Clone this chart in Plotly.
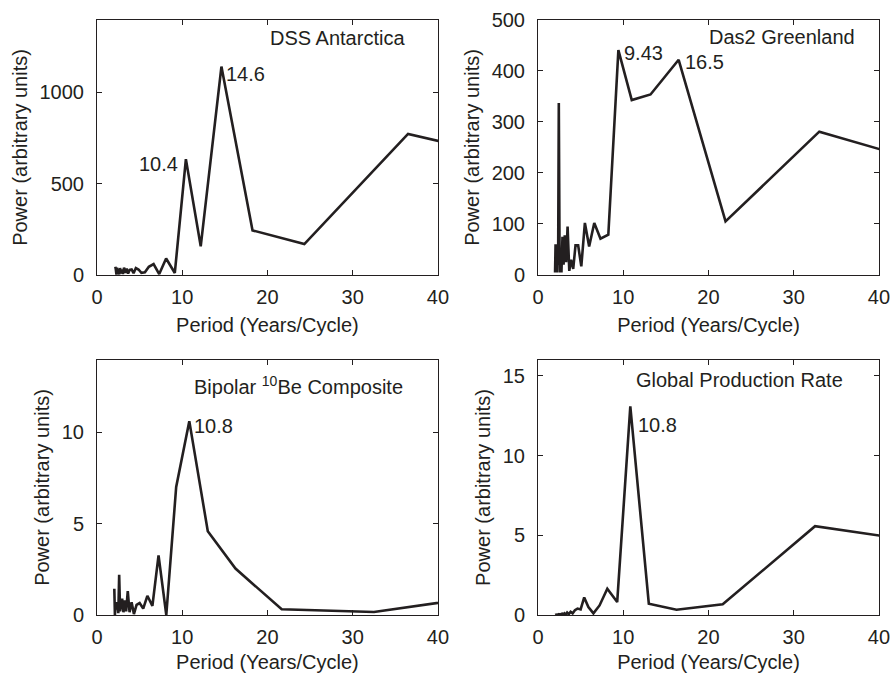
import plotly.graph_objects as go

# ---- data ----
dss_period = [73, 36.5, 24.33, 18.25, 14.6, 12.17, 10.43, 9.13, 8.11, 7.3, 6.64, 6.08, 5.62, 5.21,
              4.87, 4.56, 4.29, 4.06, 3.84, 3.65, 3.48, 3.32, 3.17, 3.04, 2.92, 2.81, 2.7, 2.61,
              2.52, 2.43, 2.35, 2.28, 2.21, 2.15]
dss_power = [376, 772, 169, 244, 1140, 157, 634, 11, 90, 5, 60, 45, 15, 12,
             30, 38, 10, 30, 28, 8, 35, 12, 40, 5, 30, 8, 38, 3,
             25, 10, 40, 2, 30, 45]

das2_period = [66, 33, 22, 16.5, 13.2, 11, 9.43, 8.25, 7.33, 6.6, 6.0, 5.5, 5.08, 4.71, 4.4,
               4.13, 3.88, 3.67, 3.47, 3.3, 3.14, 3.0, 2.87, 2.75, 2.64, 2.54, 2.44, 2.36,
               2.28, 2.2, 2.13, 2.06, 2.0]
das2_power = [121, 281, 105, 422, 354, 343, 441, 79, 71, 102, 56, 102, 17, 58, 58,
              12, 30, 8, 95, 25, 78, 20, 75, 5, 40, 5, 337, 20,
              60, 5, 35, 60, 5]

be_period = [65, 32.5, 21.67, 16.25, 13, 10.83, 9.29, 8.13, 7.22, 6.5, 5.91, 5.42, 5.0, 4.64,
             4.33, 4.06, 3.82, 3.61, 3.42, 3.25, 3.1, 2.95, 2.83, 2.71, 2.6, 2.5, 2.41, 2.32,
             2.24, 2.17, 2.1, 2.03]
be_power = [2.33, 0.16, 0.31, 2.54, 4.58, 10.6, 7.0, 0.0, 3.26, 0.5, 1.05, 0.35, 0.65, 0.55,
            0.05, 0.7, 0.15, 1.3, 0.2, 0.8, 0.15, 0.9, 0.6, 0.2, 2.2, 0.1, 0.6, 0.7,
            0.3, 0.5, 0.0, 1.44]

gpr_period = be_period
gpr_power = [3.06, 5.57, 0.67, 0.33, 0.71, 13.09, 0.81, 1.65, 0.6, 0.1, 0.5, 1.1, 0.35, 0.4,
             0.3, 0.1, 0.2, 0.05, 0.15, 0.02, 0.1, 0.03, 0.08, 0.02, 0.05, 0.01, 0.04, 0.0,
             0.03, 0.0, 0.02, 0.0]

titles = ["DSS Antarctica", "Das2 Greenland", "Bipolar <sup>10</sup>Be Composite", "Global Production Rate"]
y_ranges = [[0, 1395], [0, 500], [0, 13.94], [0, 16]]
y_ticks = [[0, 500, 1000], [0, 100, 200, 300, 400, 500], [0, 5, 10], [0, 5, 10, 15]]
x_ticks = [0, 10, 20, 30, 40]

INK = "#231f20"
FONT = "Arial, Liberation Sans, Helvetica, sans-serif"
FS = 20

x_domains = [[0.109, 0.492], [0.6045, 0.9876], [0.109, 0.492], [0.6045, 0.9876]]
y_domains = [[0.5914, 0.9703], [0.5914, 0.9703], [0.0862, 0.465], [0.0862, 0.465]]
x_title_standoff = [11, 11, 8, 8]

series = [(dss_period, dss_power), (das2_period, das2_power), (be_period, be_power), (gpr_period, gpr_power)]

fig = go.Figure()
for i, (px, py) in enumerate(series):
    sfx = "" if i == 0 else str(i + 1)
    fig.add_trace(go.Scatter(x=px, y=py, mode="lines", xaxis="x" + sfx, yaxis="y" + sfx,
                             line=dict(color=INK, width=2.6), showlegend=False, hoverinfo="skip"))
    axcommon = dict(showline=True, linecolor=INK, linewidth=1, mirror="ticks", ticks="inside",
                    ticklen=5, tickcolor=INK, showgrid=False, zeroline=False, automargin=False,
                    ticklabeloverflow="allow",
                    tickfont=dict(family=FONT, size=FS, color=INK))
    fig.update_layout(**{
        "xaxis" + sfx: dict(domain=x_domains[i], range=[0, 40], tickvals=x_ticks,
                            anchor="y" + sfx, ticklabelstandoff=4,
                            title=dict(text="Period (Years/Cycle)", standoff=x_title_standoff[i],
                                       font=dict(family=FONT, size=FS, color=INK)),
                            **axcommon),
        "yaxis" + sfx: dict(domain=y_domains[i], range=y_ranges[i], tickvals=y_ticks[i],
                            anchor="x" + sfx, ticklabelstandoff=8,
                            title=dict(text="Power (arbitrary units)", standoff=6,
                                       font=dict(family=FONT, size=FS, color=INK)),
                            **axcommon),
    })

# panel titles
title_pos = [(20.1, 1297), (19.8, 466), (11.1, 12.55), (11.3, 14.72)]
annos = []
for i, (tx, ty) in enumerate(title_pos):
    sfx = "" if i == 0 else str(i + 1)
    annos.append(dict(x=tx, y=ty, xref="x" + sfx, yref="y" + sfx, text=titles[i], showarrow=False,
                      xanchor="left", yanchor="middle", font=dict(family=FONT, size=FS, color=INK)))

# peak labels
peaks = [
    (0, 10.43, 608, "10.4", "right", -6),
    (0, 14.6, 1100, "14.6", "left", 3),
    (1, 9.43, 436, "9.43", "left", 4),
    (1, 16.5, 418, "16.5", "left", 4),
    (2, 10.83, 10.34, "10.8", "left", 3),
    (3, 10.83, 11.9, "10.8", "left", 6),
]
for i, px_, py_, txt, xa, xs in peaks:
    sfx = "" if i == 0 else str(i + 1)
    annos.append(dict(x=px_, y=py_, xref="x" + sfx, yref="y" + sfx, text=txt, showarrow=False,
                      xanchor=xa, yanchor="middle", xshift=xs,
                      font=dict(family=FONT, size=FS, color=INK)))

fig.update_layout(width=890, height=673, margin=dict(l=0, r=0, t=0, b=0),
                  template="none",
                  plot_bgcolor="white", paper_bgcolor="white", annotations=annos,
                  font=dict(family=FONT, size=FS, color=INK))

fig.write_html("out.html", config={"displayModeBar": False},
               post_script="document.body.style.margin='0';")
